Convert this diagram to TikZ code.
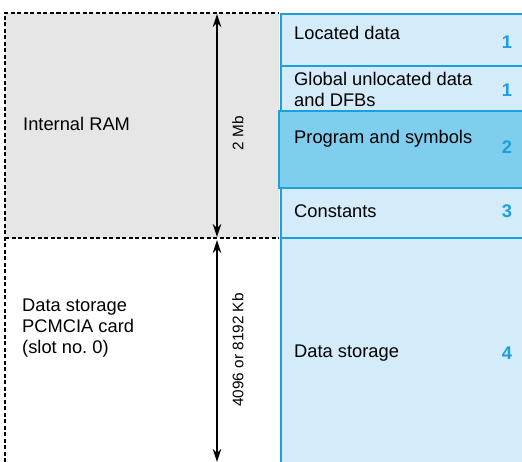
\documentclass[tikz,border=0pt]{standalone}
\usepackage{fontspec}
\setmainfont{Liberation Sans}
\usetikzlibrary{arrows.meta}

\begin{document}
\begin{tikzpicture}[x=1pt,y=-1pt,line cap=butt,line join=miter,
  rowbox/.style={draw=memBlue, fill=memLight, line width=1.6pt, rectangle, anchor=north west, inner sep=0pt, minimum width=242pt},
  rowtext/.style={anchor=west, align=left, inner sep=0pt, font=\fontsize{18.3}{21}\selectfont, text=black},
  rownum/.style={anchor=center, inner sep=0pt, font=\fontsize{18.3}{21}\selectfont\bfseries, text=memBlue},
  sizetext/.style={anchor=center, rotate=90, inner sep=0pt, font=\fontsize{15.3}{18}\selectfont},
  sizearrow/.style={black, line width=1.7pt, {Stealth[length=13pt,width=8.5pt]}-{Stealth[length=13pt,width=8.5pt]}}]

\definecolor{memBlue}{RGB}{27,159,222}
\definecolor{memLight}{RGB}{212,235,249}
\definecolor{memProg}{RGB}{128,206,238}
\definecolor{ramGrey}{RGB}{230,230,230}

\path[use as bounding box] (0,0) rectangle (522,462);

% memory zones (dashed)
\fill[ramGrey] (5,13) rectangle (279,238);
\draw[black, line width=1.1pt, dash pattern=on 4pt off 2.5pt] (5,462) -- (5,13) -- (279,13);
\draw[black, line width=1.1pt, dash pattern=on 4pt off 2.5pt] (5,238) -- (279,238);

\node[rowtext] (ram) at (23,124) {Internal RAM};
\node[rowtext] (card) at (22,328) {Data storage\\PCMCIA card\\(slot no.\ 0)};

% sizes
\coordinate (ramTop) at (217,14);
\coordinate (ramBot) at (217,237);
\coordinate (cardTop) at (217,240);
\coordinate (cardBot) at (217,462);
\draw[sizearrow] (ramTop) -- (ramBot);
\draw[sizearrow] (cardTop) -- (cardBot);
\node[sizetext] (ramSize) at (238,133) {2 Mb};
\node[sizetext] (cardSize) at (238,350) {4096 or 8192 Kb};

% application areas
\node[rowbox, minimum height=52pt] (located) at (280,13) {};
\node[rowbox, minimum height=45pt] (global) at (280,65) {};
\node[rowbox, minimum height=50pt] (constants) at (280,187) {};
\node[rowbox, minimum height=226pt] (storage) at (280,237) {};
\node[rowbox, fill=memProg, minimum height=77pt, minimum width=244pt] (program) at (278,110) {};

\node[rowtext] (locatedText) at (294,33) {Located data};
\node[rowtext] (globalText) at (294,89) {Global unlocated data\\and DFBs};
\node[rowtext] (programText) at (294,139) {Program and symbols};
\node[rowtext] (constantsText) at (294,211) {Constants};
\node[rowtext] (storageText) at (294,353) {Data storage};

\node[rownum] (n1) at (507,42) {1};
\node[rownum] (n2) at (507,90) {1};
\node[rownum] (n3) at (507,147) {2};
\node[rownum] (n4) at (507,211) {3};
\node[rownum] (n5) at (507,353) {4};

\end{tikzpicture}
\end{document}
